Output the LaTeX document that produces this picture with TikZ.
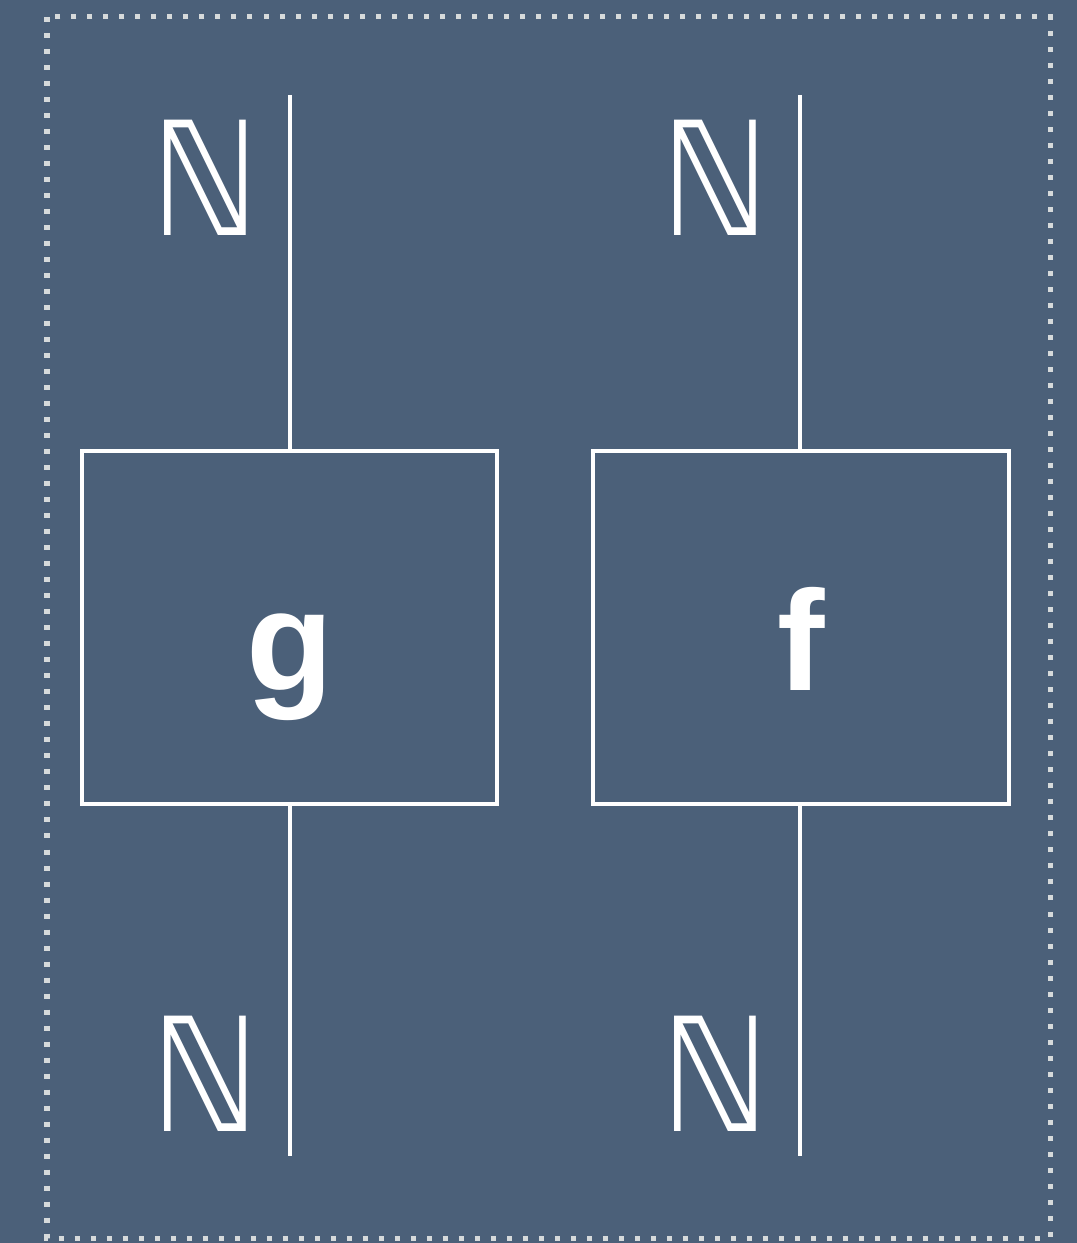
\documentclass[tikz,border=0pt]{standalone}
\usepackage{fontspec}
\setsansfont{Liberation Sans}
\newfontfamily\dblstruck[FakeStretch=0.85]{DejaVu Sans}
\usetikzlibrary{positioning}
\definecolor{slate}{HTML}{4B6079}
\definecolor{dotgray}{HTML}{D6DADB}
\tikzset{
  frame/.style={draw=dotgray, line width=0.05cm, dash pattern=on 0.05cm off 0.11cm},
  morph/.style={draw=white, line width=0.04cm, inner sep=0pt, minimum width=4.15cm, minimum height=3.53cm,
    text height=1.25cm, text depth=0pt, text=white, font=\sffamily\bfseries\fontsize{40.5}{48}\selectfont},
  wire/.style={draw=white, line width=0.042cm},
  obj/.style={text=white, inner sep=0pt, font=\dblstruck\fontsize{45}{52}\selectfont},
}

\begin{document}
\begin{tikzpicture}[x=0.01cm, y=-0.01cm]
  \fill[slate] (0,0) rectangle (1077,1243);
  \useasboundingbox (0,0) rectangle (1077,1243);
  \draw[frame] (47,17) rectangle (1050,1238);

  \node[morph] (g) at (289.5,627.5) {g};
  \node[morph] (f) at (801,627.5) {f};

  \coordinate (gin) at (290,95);
  \coordinate (gout) at (290,1156);
  \coordinate (fin) at (800,95);
  \coordinate (fout) at (800,1156);

  \draw[wire] (gin) -- (gin |- g.north);
  \draw[wire] (gin |- g.south) -- (gout);
  \draw[wire] (fin) -- (fin |- f.north);
  \draw[wire] (fin |- f.south) -- (fout);

  \node[obj] (gtop) at (205,178) {ℕ};
  \node[obj] (gbot) at (205,1074) {ℕ};
  \node[obj] (ftop) at (715,178) {ℕ};
  \node[obj] (fbot) at (715,1074) {ℕ};
\end{tikzpicture}
\end{document}
